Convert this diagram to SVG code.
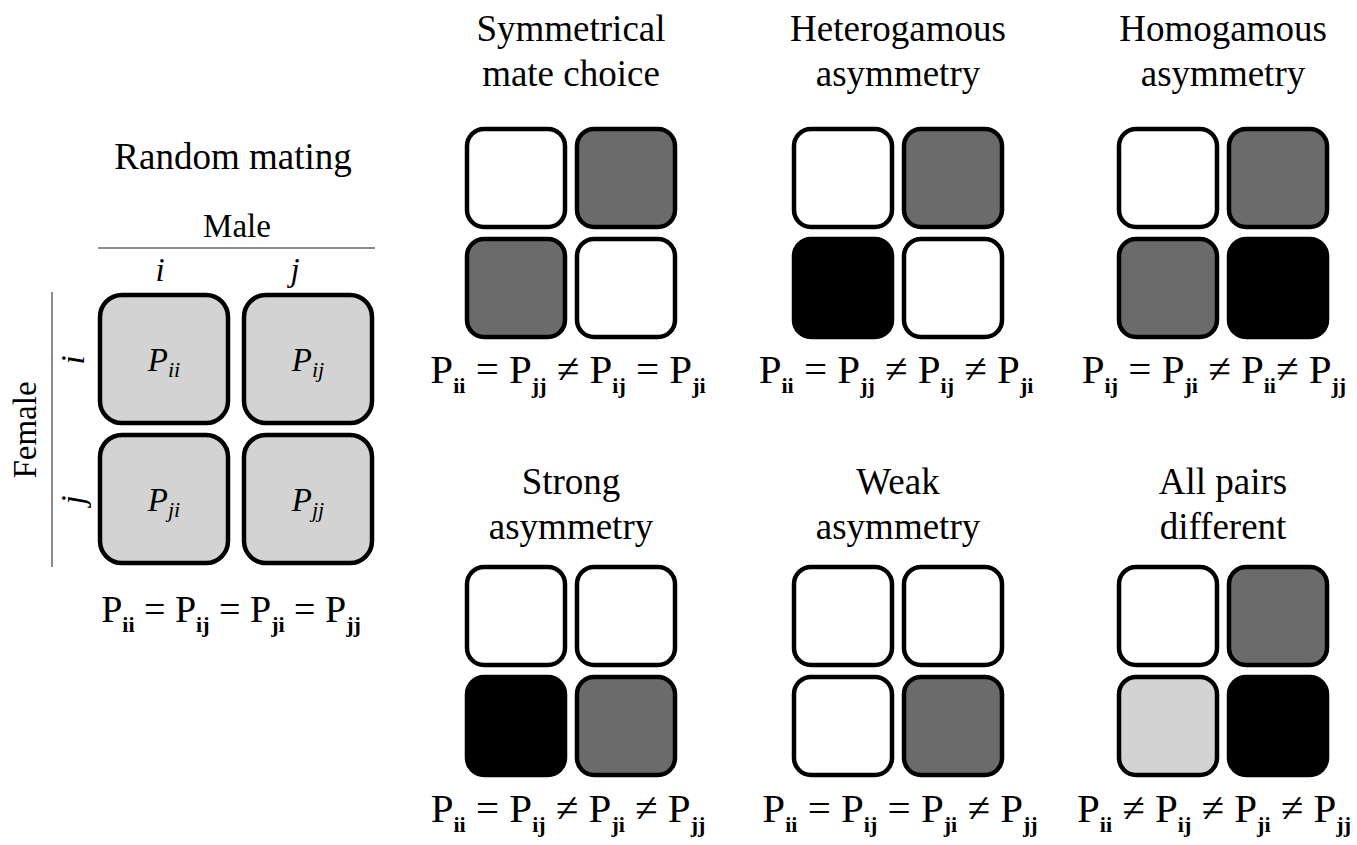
<svg xmlns="http://www.w3.org/2000/svg" width="1357" height="845" viewBox="0 0 1357 845">
<style>
text{font-family:"Liberation Serif",Tinos,"Noto Serif","DejaVu Serif",FreeSerif,"Nimbus Roman","Times New Roman",Times,Georgia,serif;fill:#000}
.title{font-size:37px;text-anchor:middle}
.lab{font-size:33px;text-anchor:middle}
.it{font-style:italic}
.eq{font-size:41px;text-anchor:middle}
.eqs{font-size:38px;text-anchor:middle}
.sub{font-size:22px;font-weight:bold}
.isub{font-size:22px;font-style:italic}
.cell{stroke:#000;stroke-width:4.5}
.w{fill:#fff}.d{fill:#6b6b6b}.b{fill:#000}.l{fill:#d3d3d3}
.axis{stroke:#666;stroke-width:1.5}
</style>
<rect width="1357" height="845" fill="#fff"/>

<g id="random-mating">
<text class="title" x="233" y="169">Random mating</text>
<text class="lab" x="237" y="237">Male</text>
<line class="axis" x1="98" y1="248" x2="375" y2="248"/>
<text class="lab it" x="160" y="281">i</text>
<text class="lab it" x="295" y="281">j</text>
<line class="axis" x1="52" y1="292" x2="52" y2="567"/>
<text class="lab" transform="translate(36,430) rotate(-90)">Female</text>
<text class="lab it" transform="translate(84,360) rotate(-90)">i</text>
<text class="lab it" transform="translate(84,500) rotate(-90)">j</text>
<rect class="cell l" x="100" y="295" width="128" height="128" rx="22"/>
<rect class="cell l" x="244" y="295" width="128" height="128" rx="22"/>
<rect class="cell l" x="100" y="435" width="128" height="128" rx="22"/>
<rect class="cell l" x="244" y="435" width="128" height="128" rx="22"/>
<text class="lab it" x="164" y="371">P<tspan class="isub" dy="6">ii</tspan></text>
<text class="lab it" x="308" y="371">P<tspan class="isub" dy="6">ij</tspan></text>
<text class="lab it" x="164" y="511">P<tspan class="isub" dy="6">ji</tspan></text>
<text class="lab it" x="308" y="511">P<tspan class="isub" dy="6">jj</tspan></text>
<text class="eqs" x="231" y="622">P<tspan class="sub" dy="10">ii</tspan><tspan dy="-10"> = P</tspan><tspan class="sub" dy="10">ij</tspan><tspan dy="-10"> = P</tspan><tspan class="sub" dy="10">ji</tspan><tspan dy="-10"> = P</tspan><tspan class="sub" dy="10">jj</tspan></text>
</g>

<g id="symmetrical">
<text class="title" x="571" y="41">Symmetrical</text>
<text class="title" x="571" y="86">mate choice</text>
<rect class="cell w" x="467" y="129" width="98" height="98" rx="17"/>
<rect class="cell d" x="577" y="129" width="98" height="98" rx="17"/>
<rect class="cell d" x="467" y="239" width="98" height="98" rx="17"/>
<rect class="cell w" x="577" y="239" width="98" height="98" rx="17"/>
<text class="eq" x="568" y="383">P<tspan class="sub" dy="10">ii</tspan><tspan dy="-10">  = P</tspan><tspan class="sub" dy="10">jj</tspan><tspan dy="-10"> ≠ P</tspan><tspan class="sub" dy="10">ij</tspan><tspan dy="-10"> = P</tspan><tspan class="sub" dy="10">ji</tspan></text>
</g>

<g id="heterogamous">
<text class="title" x="898" y="41">Heterogamous</text>
<text class="title" x="898" y="86">asymmetry</text>
<rect class="cell w" x="794" y="129" width="98" height="98" rx="17"/>
<rect class="cell d" x="904" y="129" width="98" height="98" rx="17"/>
<rect class="cell b" x="794" y="239" width="98" height="98" rx="17"/>
<rect class="cell w" x="904" y="239" width="98" height="98" rx="17"/>
<text class="eq" x="896" y="383">P<tspan class="sub" dy="10">ii</tspan><tspan dy="-10"> = P</tspan><tspan class="sub" dy="10">jj</tspan><tspan dy="-10"> ≠ P</tspan><tspan class="sub" dy="10">ij</tspan><tspan dy="-10"> ≠ P</tspan><tspan class="sub" dy="10">ji</tspan></text>
</g>

<g id="homogamous">
<text class="title" x="1223" y="41">Homogamous</text>
<text class="title" x="1223" y="86">asymmetry</text>
<rect class="cell w" x="1119" y="129" width="98" height="98" rx="17"/>
<rect class="cell d" x="1229" y="129" width="98" height="98" rx="17"/>
<rect class="cell d" x="1119" y="239" width="98" height="98" rx="17"/>
<rect class="cell b" x="1229" y="239" width="98" height="98" rx="17"/>
<text class="eq" x="1214" y="383">P<tspan class="sub" dy="10">ij</tspan><tspan dy="-10"> = P</tspan><tspan class="sub" dy="10">ji</tspan><tspan dy="-10"> ≠ P</tspan><tspan class="sub" dy="10">ii</tspan><tspan dy="-10">≠  P</tspan><tspan class="sub" dy="10">jj</tspan></text>
</g>

<g id="strong">
<text class="title" x="571" y="494">Strong</text>
<text class="title" x="571" y="539">asymmetry</text>
<rect class="cell w" x="467" y="567" width="98" height="98" rx="17"/>
<rect class="cell w" x="577" y="567" width="98" height="98" rx="17"/>
<rect class="cell b" x="467" y="677" width="98" height="98" rx="17"/>
<rect class="cell d" x="577" y="677" width="98" height="98" rx="17"/>
<text class="eq" x="568" y="822">P<tspan class="sub" dy="10">ii</tspan><tspan dy="-10"> = P</tspan><tspan class="sub" dy="10">ij</tspan><tspan dy="-10"> ≠ P</tspan><tspan class="sub" dy="10">ji</tspan><tspan dy="-10"> ≠ P</tspan><tspan class="sub" dy="10">jj</tspan></text>
</g>

<g id="weak">
<text class="title" x="898" y="494">Weak</text>
<text class="title" x="898" y="539">asymmetry</text>
<rect class="cell w" x="794" y="567" width="98" height="98" rx="17"/>
<rect class="cell w" x="904" y="567" width="98" height="98" rx="17"/>
<rect class="cell w" x="794" y="677" width="98" height="98" rx="17"/>
<rect class="cell d" x="904" y="677" width="98" height="98" rx="17"/>
<text class="eq" x="900" y="822">P<tspan class="sub" dy="10">ii</tspan><tspan dy="-10"> = P</tspan><tspan class="sub" dy="10">ij</tspan><tspan dy="-10"> = P</tspan><tspan class="sub" dy="10">ji</tspan><tspan dy="-10"> ≠ P</tspan><tspan class="sub" dy="10">jj</tspan></text>
</g>

<g id="all-pairs">
<text class="title" x="1223" y="494">All pairs</text>
<text class="title" x="1223" y="539">different</text>
<rect class="cell w" x="1119" y="567" width="98" height="98" rx="17"/>
<rect class="cell d" x="1229" y="567" width="98" height="98" rx="17"/>
<rect class="cell l" x="1119" y="677" width="98" height="98" rx="17"/>
<rect class="cell b" x="1229" y="677" width="98" height="98" rx="17"/>
<text class="eq" x="1214" y="822">P<tspan class="sub" dy="10">ii</tspan><tspan dy="-10"> ≠ P</tspan><tspan class="sub" dy="10">ij</tspan><tspan dy="-10"> ≠ P</tspan><tspan class="sub" dy="10">ji</tspan><tspan dy="-10"> ≠ P</tspan><tspan class="sub" dy="10">jj</tspan></text>
</g>
</svg>
